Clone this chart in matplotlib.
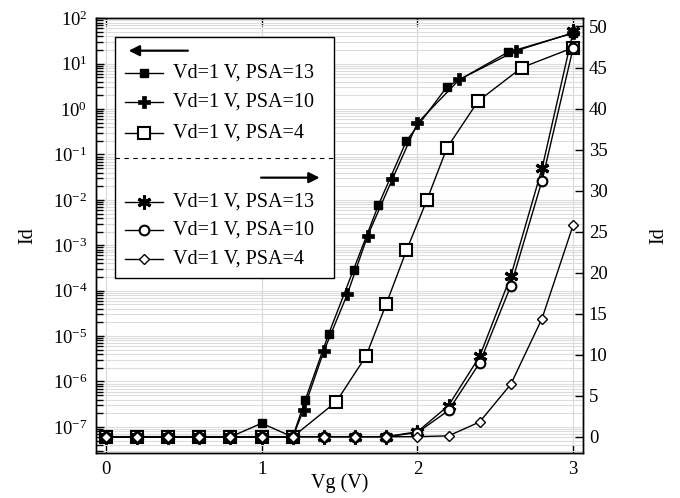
import matplotlib
matplotlib.use('Agg')
import matplotlib.pyplot as plt
from matplotlib.patches import Rectangle
from matplotlib.ticker import LogLocator

plt.rcParams['font.family'] = ['Liberation Serif', 'DejaVu Serif']
plt.rcParams['mathtext.fontset'] = 'custom'
plt.rcParams['mathtext.rm'] = 'Liberation Serif'
plt.rcParams['mathtext.it'] = 'Liberation Serif:italic'

# left axis (log) data
vg13 = [0, 0.2, 0.4, 0.6, 0.8, 1.0, 1.2, 1.28, 1.43, 1.59, 1.75, 1.93, 2.19, 2.58, 3.0]
id13 = [6e-8, 6e-8, 6e-8, 6e-8, 6e-8, 1.2e-7, 6e-8, 3.9e-7, 1.1e-5, 2.9e-4, 7.7e-3, 0.2, 3.1, 17.8, 47]
vg10 = [0, 0.2, 0.4, 0.6, 0.8, 1.0, 1.2, 1.27, 1.40, 1.55, 1.68, 1.84, 2.0, 2.27, 2.63, 3.0]
id10 = [6e-8, 6e-8, 6e-8, 6e-8, 6e-8, 6e-8, 6e-8, 2.4e-7, 4.7e-6, 8.3e-5, 1.6e-3, 0.029, 0.49, 4.5, 19, 48]
vg4 = [0, 0.2, 0.4, 0.6, 0.8, 1.0, 1.2, 1.48, 1.67, 1.80, 1.93, 2.06, 2.19, 2.39, 2.67, 3.0]
id4 = [6e-8, 6e-8, 6e-8, 6e-8, 6e-8, 6e-8, 6e-8, 3.6e-7, 3.6e-6, 5.1e-5, 7.7e-4, 9.7e-3, 0.14, 1.5, 8.2, 22.5]

# right axis (linear) data
vg_lin = [0, 0.2, 0.4, 0.6, 0.8, 1.0, 1.2, 1.4, 1.6, 1.8, 2.0, 2.2, 2.4, 2.6, 2.8, 3.0]
idl13 = [0, 0, 0, 0, 0, 0, 0, 0, 0, 0, 0.6, 3.8, 9.8, 19.6, 32.7, 49.4]
idl10 = [0, 0, 0, 0, 0, 0, 0, 0, 0, 0, 0.5, 3.2, 9.0, 18.4, 31.2, 47.4]
idl4 = [0, 0, 0, 0, 0, 0, 0, 0, 0, 0, 0, 0.1, 1.8, 6.4, 14.4, 25.8]

labels = ['Vd=1 V, PSA=13', 'Vd=1 V, PSA=10', 'Vd=1 V, PSA=4']
right_ticks = [0, 5, 10, 15, 20, 25, 30, 35, 40, 45, 50]

# marker styles: (marker, size, face, edge width)
left_styles = [('s', 5.5, 'k', 1.0), ('P', 8.5, 'k', 0.5), ('s', 8.0, 'white', 1.5)]
right_styles = [((6, 2, 0), 10, 'k', 2.2), ('o', 7.0, 'white', 1.5), ('D', 5.5, 'white', 1.0)]

fig = plt.figure(figsize=(6.8, 4.98), dpi=100)
ax = fig.add_axes([0.1407, 0.0910, 0.7171, 0.8723])
ax2 = ax.twinx()

for (x, y), (m, ms, fc, mew) in zip([(vg13, id13), (vg10, id10), (vg4, id4)], left_styles):
    ax.plot(x, y, color='k', lw=1.0, marker=m, ms=ms, mfc=fc, mec='k', mew=mew, zorder=3)

for y, (m, ms, fc, mew) in zip([idl13, idl10, idl4], right_styles):
    ax2.plot(vg_lin, y, color='k', lw=1.0, marker=m, ms=ms, mfc=fc, mec='k', mew=mew, zorder=3)

ax.set_yscale('log')
ax.set_xlim(-0.065, 3.065)
ax.set_ylim(2.7e-8, 100)
ax.set_xticks([0, 1, 2, 3])
ax.yaxis.set_major_locator(LogLocator(base=10, numticks=20))
ax.yaxis.set_minor_locator(LogLocator(base=10, subs=range(2, 10), numticks=100))
ax2.set_ylim(-1.95, 51.0)
ax2.set_yticks(right_ticks)

ax.grid(True, which='major', axis='x', color='#d8d8d8', lw=0.8)
ax.grid(True, which='both', axis='y', color='#dcdcdc', lw=0.8)
ax.set_axisbelow(True)

ax.tick_params(which='both', direction='in', top=True, right=False, labelsize=13.5, width=1.0)
ax.tick_params(which='major', length=6, pad=6)
ax.tick_params(which='minor', length=5)
ax2.tick_params(direction='in', length=6, width=1.0, labelsize=13.5, pad=4)

for a in (ax, ax2):
    for s in a.spines.values():
        s.set_linewidth(1.0)

ax.set_xlabel('Vg (V)', fontsize=14.5)
ax.set_ylabel('Id', fontsize=14.5)
ax2.set_ylabel('Id', fontsize=14.5)
ax.xaxis.set_label_coords(0.5, -0.047)
ax.yaxis.set_label_coords(-0.12, 0.5)
ax2.yaxis.set_label_coords(1.135, 0.5)

# legend built by hand (arrows and divider)
T = ax2.transAxes
box = Rectangle((0.0396, 0.4015), 0.4491, 0.5561, transform=T, facecolor='white',
                edgecolor='k', lw=1.0, zorder=10, clip_on=False)
ax2.add_patch(box)
ax2.plot([0.0396, 0.4887], [0.6777, 0.6777], transform=T, color='k', lw=0.8,
         ls=(0, (4, 4)), zorder=11, clip_on=False)
ax2.annotate('', xy=(0.0620, 0.9254), xytext=(0.1948, 0.9254), xycoords=T,
             arrowprops=dict(arrowstyle='-|>', color='k', lw=1.6, mutation_scale=16), zorder=11)
ax2.annotate('', xy=(0.4650, 0.6331), xytext=(0.3335, 0.6331), xycoords=T,
             arrowprops=dict(arrowstyle='-|>', color='k', lw=1.6, mutation_scale=16), zorder=11)

entry_y = [0.8734, 0.8066, 0.7353, 0.5778, 0.5127, 0.4452]
for ey, lab, (m, ms, fc, mew) in zip(entry_y, labels + labels, left_styles + right_styles):
    ax2.plot([0.0601, 0.1386], [ey, ey], transform=T, color='k', lw=1.0, zorder=11, clip_on=False)
    ax2.plot([0.0997], [ey], transform=T, marker=m, ms=ms, mfc=fc, mec='k', mew=mew,
             zorder=12, clip_on=False)
    ax2.text(0.1591, ey, lab, transform=T, fontsize=14.5, va='center', ha='left', zorder=12)

fig.savefig('out.png', dpi=100)
